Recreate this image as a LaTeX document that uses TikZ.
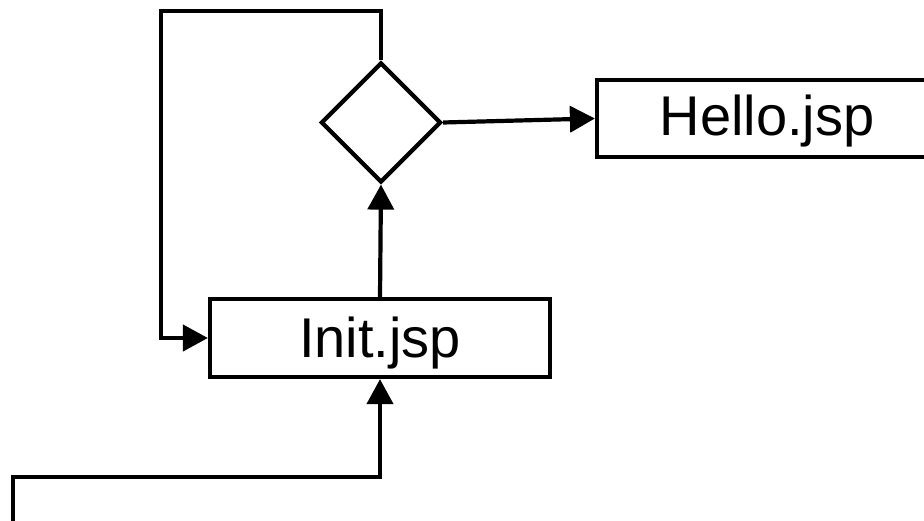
\documentclass[tikz,border=0pt]{standalone}
\usepackage{fontspec}
\setmainfont{Liberation Sans}
\usetikzlibrary{shapes.geometric,arrows.meta,calc}
\begin{document}
\begin{tikzpicture}[x=1pt,y=-1pt,
  line width=4.2pt,
  box/.style={draw,rectangle,inner sep=0pt,font=\fontsize{56}{60}\selectfont,text height=40pt,text depth=0pt},
  tip/.style={-{Triangle[length=25pt,width=26pt]}},
  dec/.style={draw,diamond,inner sep=0pt,minimum width=120pt,minimum height=120pt}]
\clip (0,0) rectangle (924,521);
\node[dec] (d) at (381,122.5) {};
\node[box,minimum width=340pt,minimum height=77pt,text depth=6pt] (hello) at (767,118.5) {Hello.jsp};
\node[box,minimum width=340pt,minimum height=78pt] (init) at (380,338) {Init.jsp};
\coordinate (lt) at (161,11);
\coordinate (bs) at (13,530);
\coordinate (bc) at ($(init.south |- 0,477)$);
\draw[tip] (d.east) -- (hello.west);
\draw[tip] (init.north) -- (d.south);
\draw[tip,line join=miter] (d.north) |- (lt) |- (init.west);
\draw[tip,line join=miter] (bs) |- (bc) -- (init.south);
\end{tikzpicture}
\end{document}
